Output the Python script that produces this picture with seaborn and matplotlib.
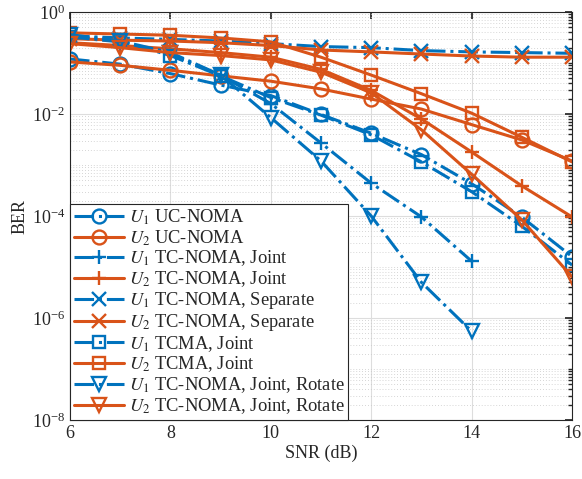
import numpy as np
import pandas as pd
import matplotlib
matplotlib.use("Agg")
import matplotlib.pyplot as plt
import seaborn as sns
from matplotlib.ticker import FixedLocator, LogLocator, NullFormatter, LogFormatterMathtext

snr = [6, 7, 8, 9, 10, 11, 12, 13, 14, 15, 16]
snr14 = [6, 7, 8, 9, 10, 11, 12, 13, 14]

u1_uc = [0.12, 0.095, 0.062, 0.037, 0.023, 0.0098, 0.0042, 0.0016, 4.3e-4, 9.5e-5, 1.6e-5]
u2_uc = [0.105, 0.09, 0.072, 0.056, 0.044, 0.031, 0.0196, 0.0125, 0.0062, 0.0031, 0.0012]
u1_tcj = [0.32, 0.26, 0.15, 0.057, 0.016, 0.0027, 4.4e-4, 9.6e-5, 1.3e-5]
u2_tcj = [0.25, 0.22, 0.19, 0.16, 0.13, 0.075, 0.029, 0.008, 0.0018, 3.9e-4, 9.6e-5]
u1_sep = [0.34, 0.31, 0.29, 0.27, 0.24, 0.21, 0.20, 0.175, 0.165, 0.16, 0.155]
u2_sep = [0.30, 0.28, 0.27, 0.25, 0.22, 0.18, 0.165, 0.15, 0.137, 0.13, 0.13]
u1_tcma = [0.32, 0.27, 0.14, 0.056, 0.021, 0.0095, 0.0039, 0.00115, 3.0e-4, 6.3e-5, 1.1e-5]
u2_tcma = [0.39, 0.37, 0.35, 0.31, 0.26, 0.13, 0.058, 0.025, 0.0104, 0.0035, 0.00115]
u1_rot = [0.36, 0.27, 0.16, 0.058, 0.0085, 0.0012, 1.0e-4, 5.0e-6, 5.5e-7]
u2_rot = [0.24, 0.20, 0.16, 0.14, 0.115, 0.066, 0.026, 0.0049, 6.6e-4, 8.4e-5, 6.4e-6]

labels = [r"$U_1$ UC-NOMA", r"$U_2$ UC-NOMA",
          r"$U_1$ TC-NOMA, Joint", r"$U_2$ TC-NOMA, Joint",
          r"$U_1$ TC-NOMA, Separate", r"$U_2$ TC-NOMA, Separate",
          r"$U_1$ TCMA, Joint", r"$U_2$ TCMA, Joint",
          r"$U_1$ TC-NOMA, Joint, Rotate", r"$U_2$ TC-NOMA, Joint, Rotate"]

sns.set_theme(style="white")
plt.rcParams["font.family"] = ["Liberation Serif", "DejaVu Serif"]
plt.rcParams["mathtext.fontset"] = "stix"

blue = "#0072BD"
red = "#D95319"

fig = plt.figure(figsize=(5.82, 4.79), dpi=100)
ax = fig.add_axes([70/582, 1-420/479, 502/582, 408/479])

series = [
    (snr, u1_uc, blue, "-.", "o"),
    (snr, u2_uc, red, "-", "o"),
    (snr14, u1_tcj, blue, "-.", "+"),
    (snr, u2_tcj, red, "-", "+"),
    (snr, u1_sep, blue, "-.", "x"),
    (snr, u2_sep, red, "-", "x"),
    (snr, u1_tcma, blue, "-.", "s"),
    (snr, u2_tcma, red, "-", "s"),
    (snr14, u1_rot, blue, "-.", "v"),
    (snr, u2_rot, red, "-", "v"),
]

for (xs, ys, c, ls, m), lab in zip(series, labels):
    ms = 10 if m in ("o", "v") else (8.5 if m == "s" else 10)
    sns.lineplot(x=xs, y=ys, ax=ax, color=c, linestyle=ls, linewidth=2.2,
                 marker=m, markersize=ms, markerfacecolor="none",
                 markeredgecolor=c, markeredgewidth=1.7, label=lab,
                 estimator=None, sort=False)

ax.set_yscale("log")
ax.set_xlim(6, 16)
ax.set_ylim(1e-8, 1)
ax.set_xticks([6, 8, 10, 12, 14, 16])
ax.yaxis.set_major_locator(FixedLocator([1e-8, 1e-6, 1e-4, 1e-2, 1]))
ax.yaxis.set_major_formatter(LogFormatterMathtext())
ax.yaxis.set_minor_locator(LogLocator(base=10, subs=np.arange(1, 10), numticks=100))
ax.yaxis.set_minor_formatter(NullFormatter())

ax.grid(True, which="major", color="#dddddd", linewidth=0.8, linestyle="-")
ax.grid(True, which="minor", axis="y", color="#c8c8c8", linewidth=0.6, linestyle=(0, (1, 2.5)))
ax.set_axisbelow(True)

ax.tick_params(which="both", direction="in", top=True, right=True, labelsize=13, colors="#262626")
ax.tick_params(which="major", length=5)
ax.tick_params(which="minor", length=3)
for sp in ax.spines.values():
    sp.set_color("#262626")
    sp.set_linewidth(0.8)

ax.set_xlabel("SNR (dB)", fontsize=13, labelpad=2)
ax.set_ylabel("BER", fontsize=13, labelpad=2)

leg = ax.legend(loc="lower left", borderaxespad=0, fontsize=13.3, handlelength=2.7,
                labelspacing=0.05, handletextpad=0.25, borderpad=0.22,
                fancybox=False, framealpha=1, edgecolor="#262626")
leg.get_frame().set_linewidth(0.8)

fig.savefig("out.png", dpi=100)
